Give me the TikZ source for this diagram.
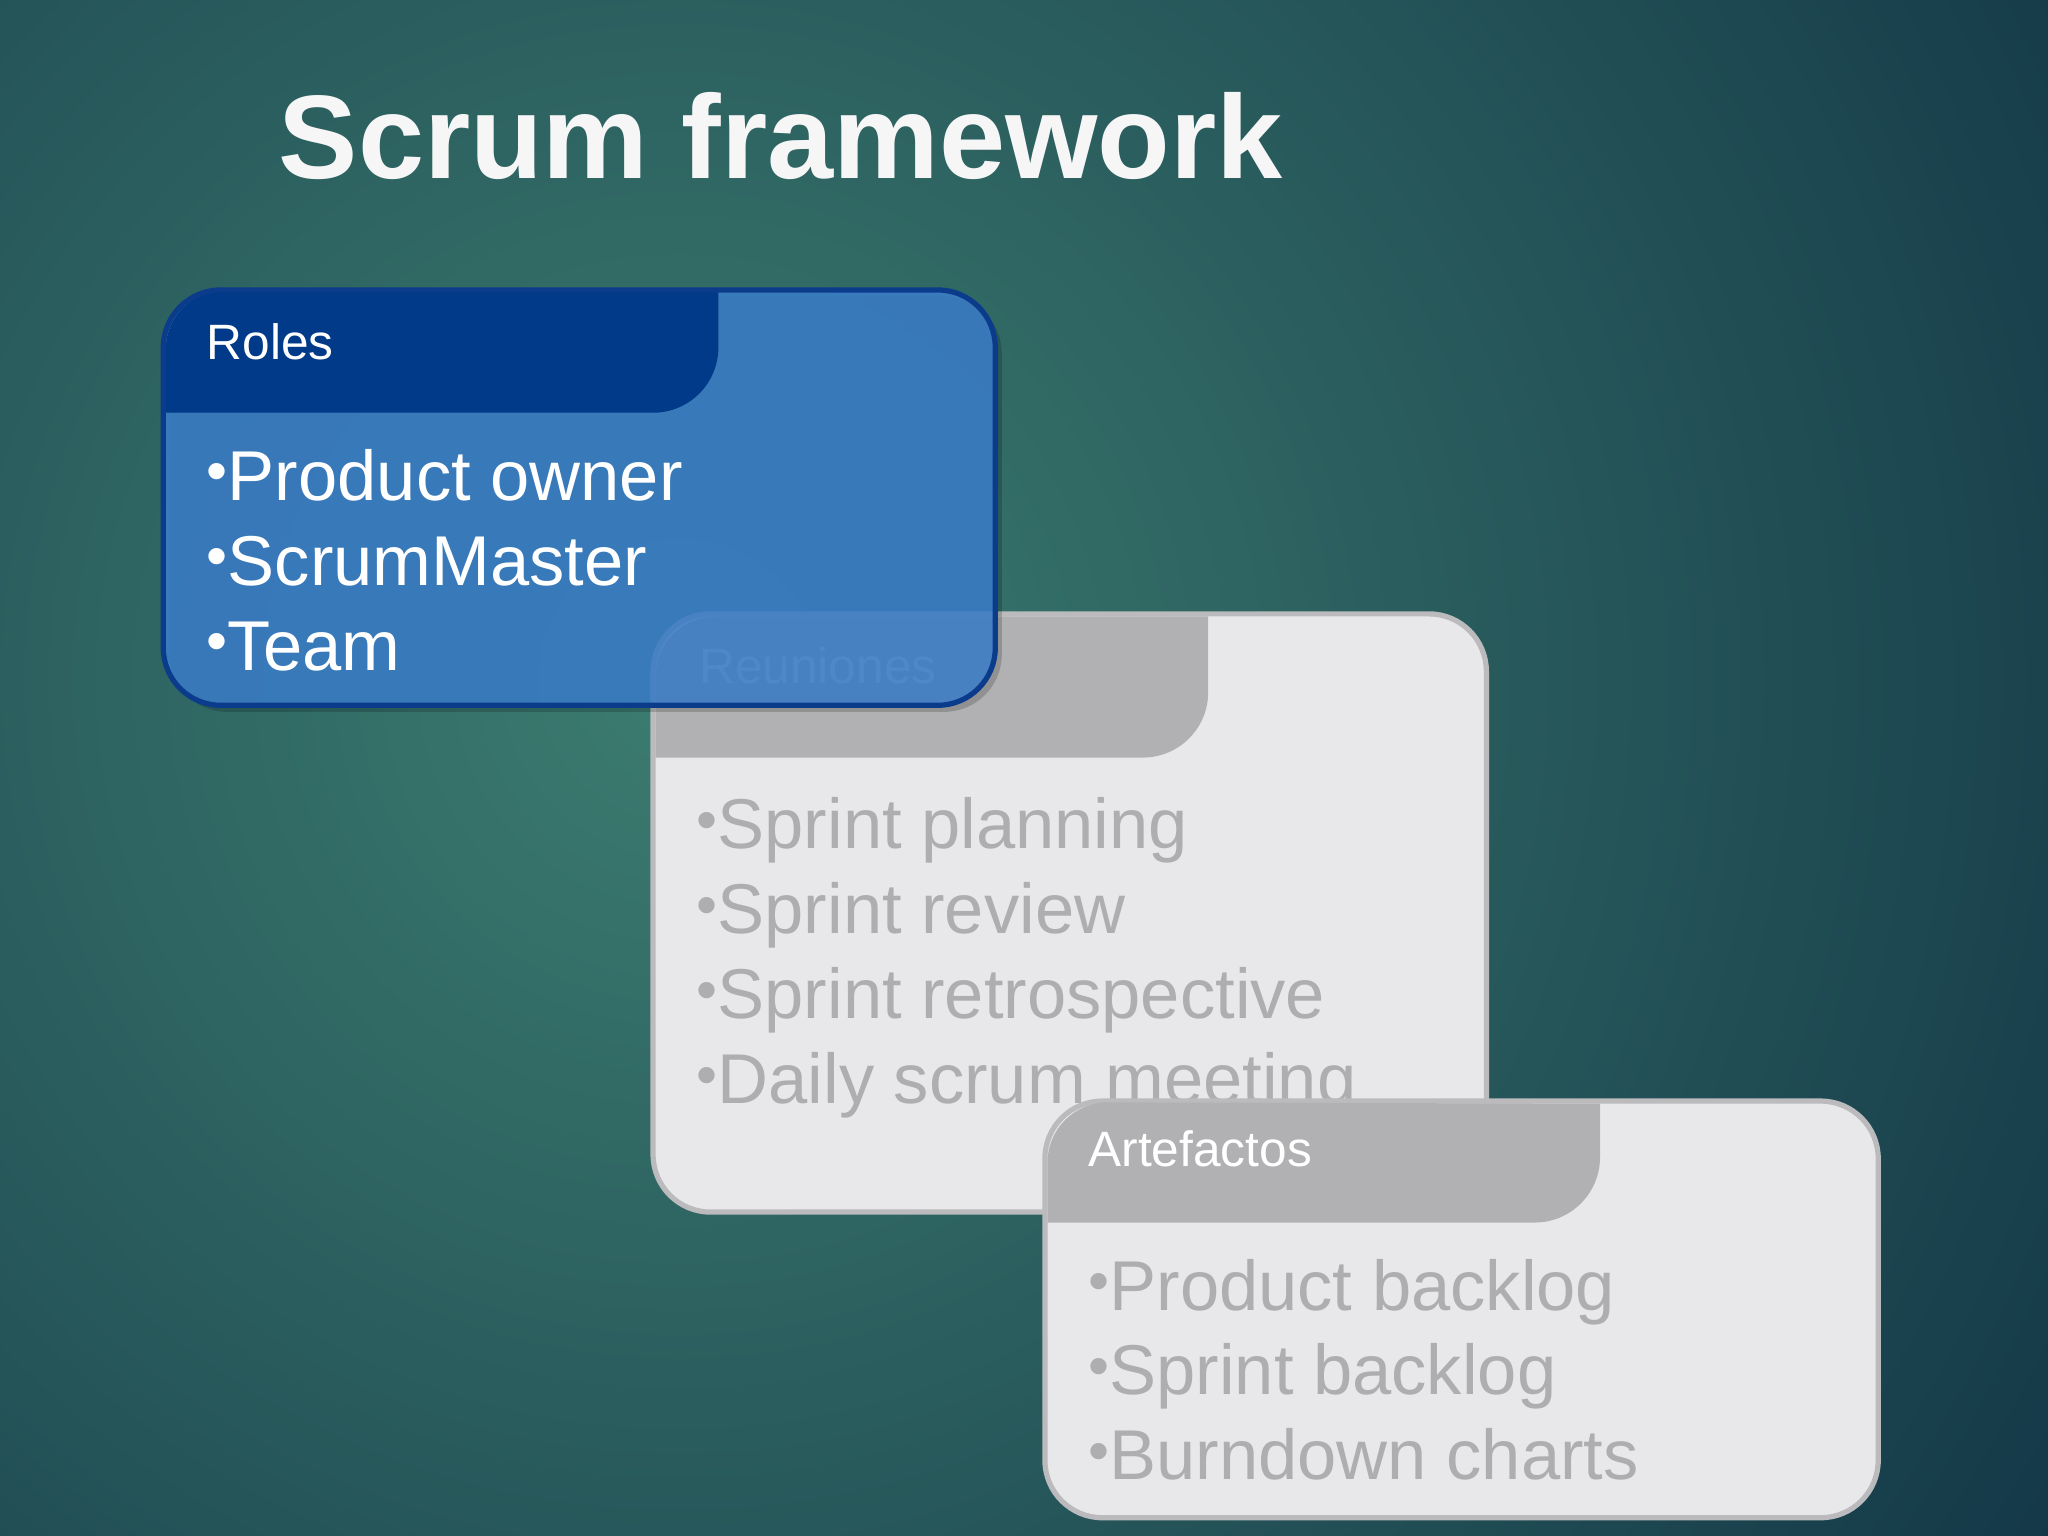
\documentclass[tikz,border=0pt]{standalone}
\usepackage{fontspec}
\setmainfont{Liberation Sans}
\definecolor{bgin}{HTML}{3C7C70}
\definecolor{bgout}{HTML}{143848}
\definecolor{bluebody}{HTML}{3B7FCB}
\definecolor{bluehead}{HTML}{003A88}
\definecolor{blueedge}{HTML}{0B3C8C}
\definecolor{graybody}{HTML}{E8E8EA}
\definecolor{grayhead}{HTML}{B1B1B3}
\definecolor{grayedge}{HTML}{BBBBBD}
\definecolor{graytext}{HTML}{AEAEB0}
\newcommand{\bu}{\raisebox{0.12em}{\scalebox{0.85}{•}}}
\tikzset{
  bul/.style={anchor=base west,inner sep=0pt,font=\fontsize{27pt}{32pt}\selectfont},
  hdr/.style={anchor=base west,inner sep=0pt,font=\fontsize{19pt}{23pt}\selectfont},
}
\begin{document}
\begin{tikzpicture}[x=0.5pt,y=0.5pt]
\useasboundingbox (0,0) rectangle (1568,-1176);
\begin{scope}
\clip (0,0) rectangle (1568,-1176);
\fill[bgout] (0,0) rectangle (1568,-1176);
\shade[inner color=bgin,outer color=bgout] (520,-520) circle[radius=620pt];
\end{scope}
\node[anchor=base west,inner sep=0pt,text=white!93!gray,font=\bfseries\fontsize{45.5pt}{50pt}\selectfont] (title) at (213,-137) {Scrum framework};
% box 2
\fill[graybody,draw=grayedge,line width=2pt,rounded corners=22pt] (500,-470) rectangle (1138,-928);
\fill[grayhead] (502,-580) -- (502,-518) arc[start angle=180,end angle=90,radius=23pt] -- (925,-472) -- (925,-530) arc[start angle=0,end angle=-90,radius=25pt] -- cycle;
\node[hdr,text=graybody] (reu) at (535,-523) {Reuniones};
\node[bul,text=graytext] (b21) at (533,-650) {\bu Sprint planning};
\node[bul,text=graytext] (b22) at (533,-715) {\bu Sprint review};
\node[bul,text=graytext] (b23) at (533,-780) {\bu Sprint retrospective};
\node[bul,text=graytext] (b24) at (533,-845) {\bu Daily scrum meeting};
% box 3
\fill[graybody,draw=grayedge,line width=2pt,rounded corners=22pt] (800,-843) rectangle (1438,-1162);
\fill[grayhead] (802,-936) -- (802,-890) arc[start angle=180,end angle=90,radius=23pt] -- (1225,-845) -- (1225,-886) arc[start angle=0,end angle=-90,radius=25pt] -- cycle;
\node[hdr,text=white] (art) at (833,-893) {Artefactos};
\node[bul,text=graytext] (b31) at (833,-1003) {\bu Product backlog};
\node[bul,text=graytext] (b32) at (833,-1068) {\bu Sprint backlog};
\node[bul,text=graytext] (b33) at (833,-1133) {\bu Burndown charts};
% box 1
\fill[black,opacity=0.18,rounded corners=22pt] (130,-227) rectangle (767,-545);
\fill[bluebody,fill opacity=0.85,rounded corners=22pt] (125,-222) rectangle (762,-540);
\fill[bluehead] (127,-316) -- (127,-267) arc[start angle=180,end angle=90,radius=22pt] -- (550,-223) -- (550,-266) arc[start angle=0,end angle=-90,radius=25pt] -- cycle;
\draw[blueedge,line width=2pt,rounded corners=22pt] (125,-222) rectangle (762,-540);
\node[hdr,text=white] (roles) at (158,-275) {Roles};
\node[bul,text=white] (b11) at (158,-383) {\bu Product owner};
\node[bul,text=white] (b12) at (158,-448) {\bu ScrumMaster};
\node[bul,text=white] (b13) at (158,-513) {\bu Team};
\end{tikzpicture}
\end{document}
